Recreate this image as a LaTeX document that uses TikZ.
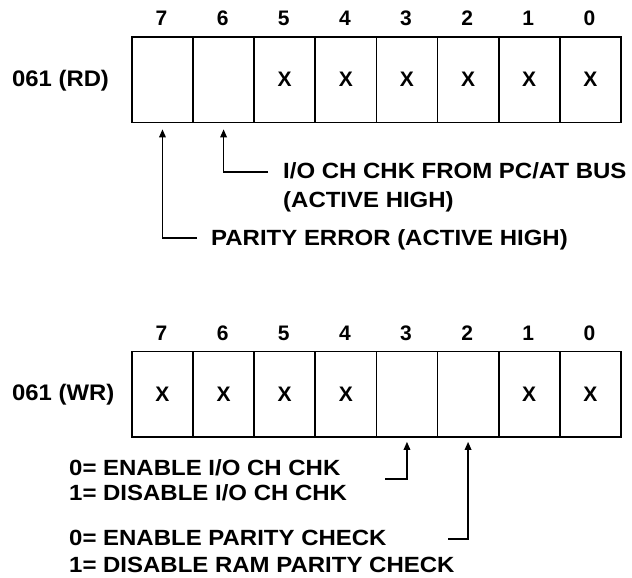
\documentclass[tikz,border=0pt]{standalone}
\usepackage{fontspec}
\setmainfont{Liberation Sans}
\newfontfamily\regfont{Liberation Sans}[FakeStretch=1.06]
\newfontfamily\notefont{Liberation Sans}[FakeStretch=1.09]
\usetikzlibrary{arrows.meta}
\begin{document}
\begin{tikzpicture}[x=1pt,y=-1pt,
  txt/.style={font=\notefont\bfseries\fontsize{22}{24}\selectfont, inner sep=0pt, anchor=base west},
  bitnum/.style={font=\bfseries\fontsize{21}{23}\selectfont, inner sep=0pt, anchor=base},
  regname/.style={font=\regfont\bfseries\fontsize{22.5}{24}\selectfont, inner sep=0pt, anchor=base west},
  cell/.style={draw, line width=1.8pt, minimum width=61.125pt, minimum height=85.5pt, inner sep=0pt,
    anchor=north west, font=\bfseries\fontsize{21}{23}\selectfont},
  arr/.style={-{Triangle[length=8pt,width=6.5pt]}, line width=1.5pt}]
\useasboundingbox (0,0) rectangle (632,578);

% ---- top register 061 (RD)
\node[regname] (rd) at (12,87) {061 (RD)};
\foreach \i in {0,...,7} {
  \pgfmathtruncatemacro\b{7-\i}
  \ifnum\b<6
    \node[cell] (t\b) at ({131+\i*61.125},36) {X};
  \else
    \node[cell] (t\b) at ({131+\i*61.125},36) {};
  \fi
  \node[bitnum] (tn\b) at ({161.56+\i*61.125},26) {\b};
}
\node[txt] (io) at (283,178) {I/O CH CHK FROM PC/AT BUS};
\node[txt] (ioah) at (283,207) {(ACTIVE HIGH)};
\node[txt] (par) at (211,245) {PARITY ERROR (ACTIVE HIGH)};
\coordinate (c6) at (268,172);
\coordinate (c7) at (197,238);
\draw[arr, shorten >=6pt] (c6) -| (t6.south);
\draw[arr, shorten >=6pt] (c7) -| (t7.south);

% ---- bottom register 061 (WR)
\node[regname] (wr) at (12,400) {061 (WR)};
\foreach \i in {0,...,7} {
  \pgfmathtruncatemacro\b{7-\i}
  \ifnum\b=3
    \node[cell] (b\b) at ({131+\i*61.125},350.5) {};
  \else\ifnum\b=2
    \node[cell] (b\b) at ({131+\i*61.125},350.5) {};
  \else
    \node[cell] (b\b) at ({131+\i*61.125},350.5) {X};
  \fi\fi
  \node[bitnum] (bn\b) at ({161.56+\i*61.125},340) {\b};
}
\node[txt] (e1) at (69,475) {0= ENABLE I/O CH CHK};
\node[txt] (d1) at (69,500) {1= DISABLE I/O CH CHK};
\node[txt] (e2) at (69,545) {0= ENABLE PARITY CHECK};
\node[txt] (d2) at (69,572) {1= DISABLE RAM PARITY CHECK};
\coordinate (c3) at (385,479);
\coordinate (c2) at (448,539);
\draw[arr, shorten >=4pt] (c3) -| (b3.south);
\draw[arr, shorten >=4pt] (c2) -| (b2.south);
\end{tikzpicture}
\end{document}
